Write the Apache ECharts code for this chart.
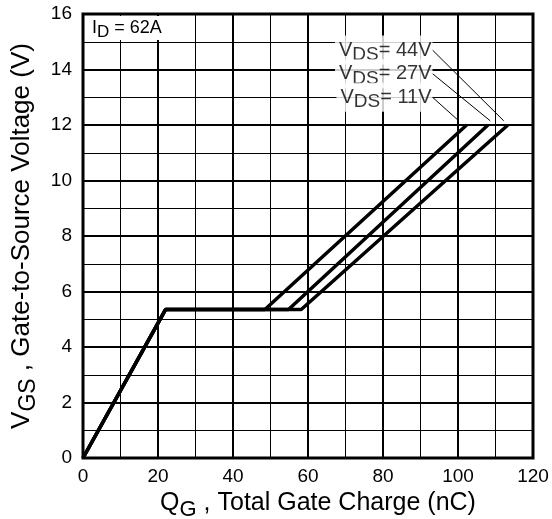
<!DOCTYPE html>
<html>
<head>
<meta charset="utf-8">
<script src="https://cdn.jsdelivr.net/npm/echarts@6/dist/echarts.min.js"></script>
<style>
  html, body { margin: 0; padding: 0; background: #fff; }
  #chart { width: 552px; height: 519px; }
</style>
</head>
<body>
<div id="chart"></div>
<script>
// Gate charge curves, [Qg (nC), Vgs (V)]
const vds11 = [[0, 0], [22, 5.35], [48.5, 5.35], [102.3, 12]]
const vds27 = [[0, 0], [22, 5.35], [54.8, 5.35], [108, 12]]
const vds44 = [[0, 0], [22, 5.35], [58.2, 5.35], [113.3, 12]]

// leader lines: label anchor -> curve end
const leader44 = [[93.2, 14.7], [112.2, 12.15]]
const leader27 = [[93.2, 13.85], [108.6, 12.15]]
const leader11 = [[93.2, 13.0], [100.2, 12.15]]
const leaderNames = ['44V', '27V', '11V']

const xTicks = [0, 20, 40, 60, 80, 100, 120]
const yTicks = [0, 2, 4, 6, 8, 10, 12, 14, 16]

const FONT = 'Liberation Sans, Arial, sans-serif'

const chart = echarts.init(document.getElementById('chart'), null, { renderer: 'canvas' })

const curve = (name, data) => ({
  name,
  type: 'line',
  data,
  symbol: 'none',
  silent: true,
  lineStyle: { color: '#000', width: 3.5 },
  z: 5,
})

const leader = data => ({
  type: 'line',
  data,
  symbol: 'none',
  silent: true,
  lineStyle: { color: '#000', width: 1 },
  z: 6,
})

const subRich = {
  n: { fontSize: 20, fontFamily: FONT, color: '#000' },
  s: { fontSize: 19, fontFamily: FONT, color: '#000', padding: [10, 0, 0, 0] },
}

// text for V_DS labels, anchored at the leader start
const labelSeries = {
  type: 'scatter',
  symbolSize: 0,
  silent: true,
  z: 7,
  data: [leader44[0], leader27[0], leader11[0]].map((p, i) => ({ value: p, name: leaderNames[i] })),
  label: {
    show: true,
    position: 'left',
    distance: 0,
    color: '#000',
    formatter: p => '{n|V}{s|DS}{n|= ' + p.name + '}',
    backgroundColor: '#fff',
    padding: [0, 1, 0, 4],
    rich: subRich,
  },
}

const nameRich = size => ({
  n: { fontSize: size, fontFamily: FONT, color: '#000' },
  s: { fontSize: size - 3, fontFamily: FONT, color: '#000', padding: [13, 0, 0, 0] },
})

const option = {
  animation: false,
  backgroundColor: '#fff',
  grid: {
    left: 83, right: 19, top: 14, bottom: 61,
    outerBoundsMode: 'none',
    containLabel: false,
    show: true, borderColor: '#000', borderWidth: 3,
  },
  xAxis: {
    type: 'value',
    min: 0, max: 120, interval: 20,
    axisLine: { show: false },
    axisTick: { show: false },
    axisLabel: {
      color: '#000', fontSize: 19, fontFamily: FONT, margin: 9,
      formatter: v => xTicks.includes(v) ? String(v) : '',
    },
    splitLine: { show: true, lineStyle: { color: '#000', width: 2 } },
    minorTick: { show: false, splitNumber: 2 },
    minorSplitLine: { show: true, lineStyle: { color: '#000', width: 1 } },
    name: '{n|Q}{s|G}{n| , Total Gate Charge (nC)}',
    nameLocation: 'middle',
    nameGap: 28,
    nameTextStyle: { rich: nameRich(25), padding: [0, 0, 0, 20] },
  },
  yAxis: {
    type: 'value',
    min: 0, max: 16, interval: 2,
    axisLine: { show: false },
    axisTick: { show: false },
    axisLabel: {
      color: '#000', fontSize: 19, fontFamily: FONT, margin: 11,
      formatter: v => yTicks.includes(v) ? String(v) : '',
    },
    splitLine: { show: true, lineStyle: { color: '#000', width: 2 } },
    minorTick: { show: false, splitNumber: 2 },
    minorSplitLine: { show: true, lineStyle: { color: '#000', width: 1 } },
    name: '{n|V}{s|GS}{n| , Gate-to-Source Voltage (V)}',
    nameLocation: 'middle',
    nameGap: 42,
    nameTextStyle: { rich: nameRich(26) },
  },
  graphic: [
    {
      type: 'rect',
      shape: { x: 85, y: 16, width: 108, height: 24 },
      style: { fill: '#fff' },
      z: 4,
    },
    {
      type: 'text',
      x: 92, y: 16,
      style: {
        text: '{n|I}{s|D}{n| = 62A}',
        rich: {
          n: { fontSize: 18, fontFamily: FONT, fill: '#000' },
          s: { fontSize: 17, fontFamily: FONT, fill: '#000', padding: [8, 0, 0, 0] },
        },
      },
      z: 5,
    },
  ],
  series: [
    curve('VDS=11V', vds11),
    curve('VDS=27V', vds27),
    curve('VDS=44V', vds44),
    leader(leader44),
    leader(leader27),
    leader(leader11),
    labelSeries,
  ],
}

chart.setOption(option)
</script>
</body>
</html>
